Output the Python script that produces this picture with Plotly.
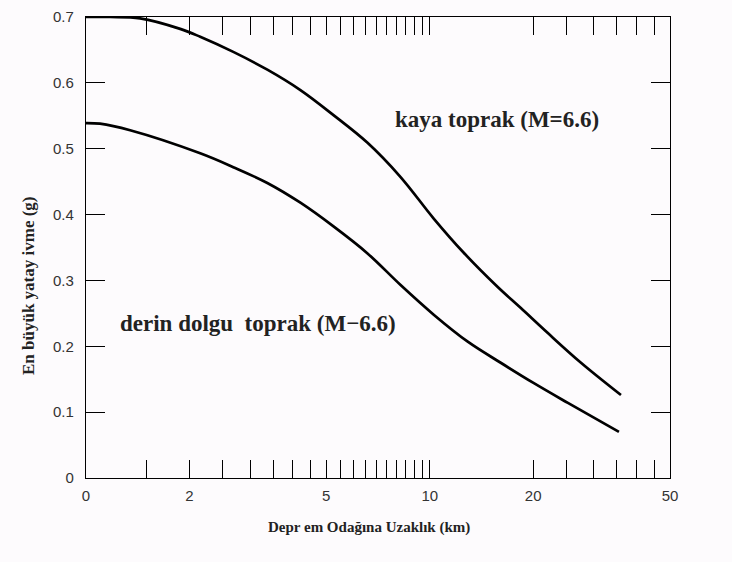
import numpy as np
import plotly.graph_objects as go

# distance (km) and peak horizontal acceleration (g)
kaya_x = [1.0, 1.175, 1.437, 1.879, 2.149, 2.682, 3.369, 4.205, 5.248, 6.592, 8.227, 10.27, 12.56, 15.77, 18.41, 22.06, 27.54, 36.0]
kaya_y = [0.700, 0.700, 0.698, 0.682, 0.670, 0.647, 0.620, 0.589, 0.551, 0.509, 0.457, 0.394, 0.342, 0.290, 0.258, 0.220, 0.175, 0.126]

derin_x = [1.0, 1.098, 1.344, 2.149, 2.682, 3.369, 4.205, 5.248, 6.592, 8.227, 10.27, 12.90, 16.09, 20.09, 25.23, 35.52]
derin_y = [0.539, 0.538, 0.528, 0.493, 0.472, 0.448, 0.418, 0.382, 0.341, 0.293, 0.248, 0.207, 0.175, 0.144, 0.114, 0.070]

x_tickvals = [1, 2, 5, 10, 20, 50]
x_ticktext = ["0", "2", "5", "10", "20", "50"]
x_minor = [1.5, 2.5, 3, 3.5, 4, 4.5, 5.5, 6, 6.5, 7, 7.5, 8, 8.5, 9, 9.5, 25, 30, 35, 40, 45]
y_tickvals = [0, 0.1, 0.2, 0.3, 0.4, 0.5, 0.6, 0.7]
y_ticktext = ["0", "0.1", "0.2", "0.3", "0.4", "0.5", "0.6", "0.7"]

label_kaya = "<b>kaya toprak (M=6.6)</b>"
label_derin = "<b>derin dolgu  toprak (M\u22126.6)</b>"
x_title = "<b>Depr em Odağına Uzaklık (km)</b>"
y_title = "<b>En büyük yatay ivme (g)</b>"

BG = "#fdfbfd"

# figure sits inside the page body (8px margin), so size it to the remaining window
W, H = 724, 554
L, R, T, B = 78, 62, 9, 84
pw, ph = W - L - R, H - T - B

fig = go.Figure()
line_style = dict(color="black", width=2.7, shape="spline", smoothing=1.0)
fig.add_trace(go.Scatter(x=kaya_x, y=kaya_y, mode="lines", line=line_style, showlegend=False))
fig.add_trace(go.Scatter(x=derin_x, y=derin_y, mode="lines", line=line_style, showlegend=False))

tickfont = dict(family="Liberation Sans", size=15, color="#333333")
fig.update_xaxes(
    type="log", range=[0, np.log10(50)], automargin=False,
    tickmode="array", tickvals=x_tickvals, ticktext=x_ticktext,
    ticks="inside", ticklen=18, tickwidth=1, tickcolor="black",
    minor=dict(tickmode="array", tickvals=x_minor, ticks="inside", ticklen=18, tickwidth=1,
               tickcolor="black", showgrid=False),
    showline=True, linecolor="black", linewidth=1.2, mirror="ticks",
    showgrid=False, zeroline=False, tickfont=tickfont, ticklabelstandoff=4,
)
fig.update_yaxes(
    range=[0, 0.7], automargin=False, tickmode="array", tickvals=y_tickvals, ticktext=y_ticktext,
    ticks="inside", ticklen=19, tickwidth=1, tickcolor="black",
    showline=True, linecolor="black", linewidth=1.2, mirror="ticks",
    showgrid=False, zeroline=False, tickfont=tickfont, ticklabelstandoff=8,
)

serif = "Liberation Serif"
fig.add_annotation(x=np.log10(7.8), y=0.544, xref="x", yref="y", text=label_kaya, showarrow=False,
                   xanchor="left", yanchor="middle", font=dict(family=serif, size=23, color="#222"))
fig.add_annotation(x=np.log10(1.24), y=0.235, xref="x", yref="y", text=label_derin, showarrow=False,
                   xanchor="left", yanchor="middle", font=dict(family=serif, size=23, color="#222"))

# axis titles, placed at their pixel spots in the page
def px_to_paper(px, py):
    return (px - 8 - L) / pw, (H - B - (py - 8)) / ph

ax, ay = px_to_paper(369, 527)
fig.add_annotation(xref="paper", yref="paper", x=ax, y=ay, text=x_title, showarrow=False,
                   xanchor="center", yanchor="middle", font=dict(family=serif, size=15, color="#222"))
ax, ay = px_to_paper(28, 286)
fig.add_annotation(xref="paper", yref="paper", x=ax, y=ay, text=y_title, textangle=-90, showarrow=False,
                   xanchor="center", yanchor="middle", font=dict(family=serif, size=17, color="#222"))

fig.update_layout(
    width=W, height=H,
    margin=dict(l=L, r=R, t=T, b=B),
    paper_bgcolor=BG, plot_bgcolor=BG,
    font=dict(family="Liberation Sans"),
)
fig.write_html("out.html", post_script="document.body.style.background='%s';" % BG)
